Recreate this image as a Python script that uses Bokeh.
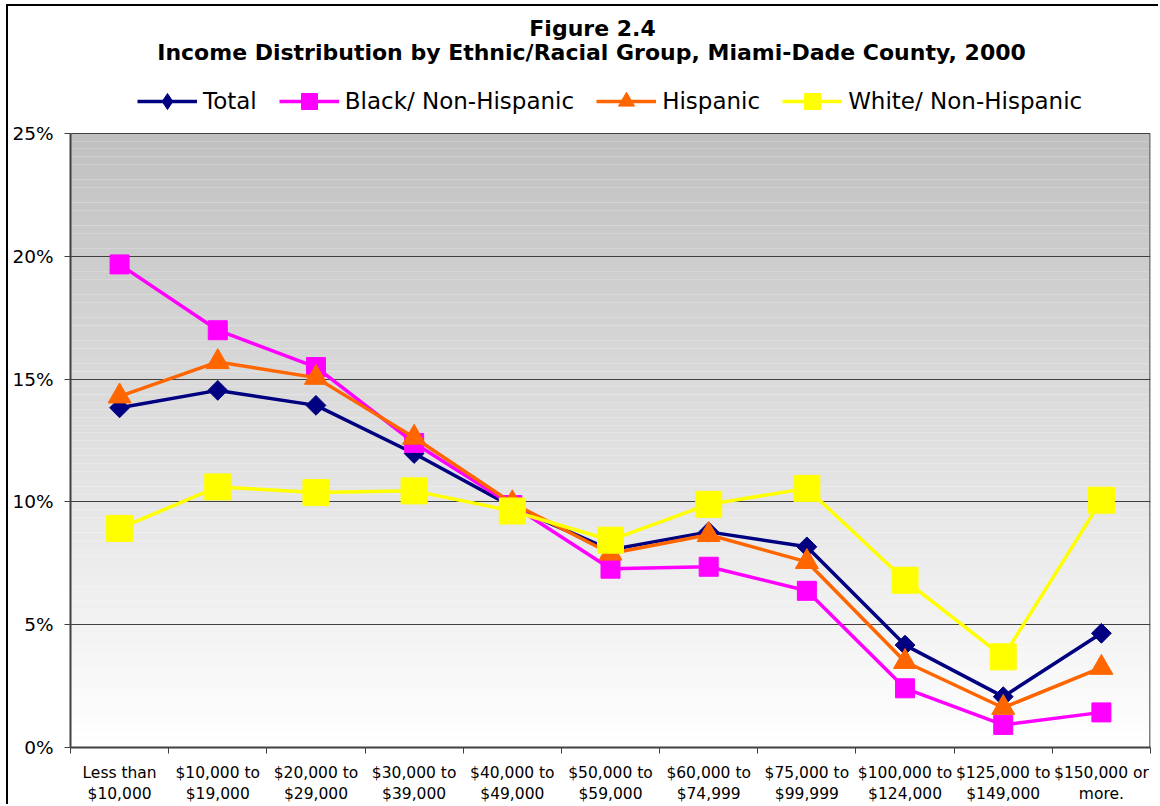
import numpy as np
from bokeh.plotting import figure
from bokeh.models import (FixedTicker, PrintfTickFormatter, Legend, LegendItem,
                          Label, Range1d)
from bokeh.embed import file_html
from bokeh.resources import INLINE

# ---------------- data ----------------
categories = [
    "Less than\n$10,000", "$10,000 to\n$19,000", "$20,000 to\n$29,000",
    "$30,000 to\n$39,000", "$40,000 to\n$49,000", "$50,000 to\n$59,000",
    "$60,000 to\n$74,999", "$75,000 to\n$99,999", "$100,000 to\n$124,000",
    "$125,000 to\n$149,000", "$150,000 or\nmore.",
]
series_names = ["Total", "Black/ Non-Hispanic", "Hispanic", "White/ Non-Hispanic"]
total = [13.83, 14.54, 13.93, 11.97, 9.80, 8.05, 8.78, 8.17, 4.17, 2.07, 4.65]
black = [19.67, 16.99, 15.49, 12.40, 9.87, 7.28, 7.36, 6.38, 2.41, 0.92, 1.43]
hispanic = [14.30, 15.70, 15.06, 12.62, 9.95, 7.90, 8.66, 7.56, 3.49, 1.62, 3.25]
white = [8.92, 10.61, 10.38, 10.45, 9.63, 8.44, 9.90, 10.55, 6.81, 3.69, 10.07]
y_ticks = [0, 5, 10, 15, 20, 25]
title_line1 = "Figure 2.4"
title_line2 = "Income Distribution by Ethnic/Racial Group, Miami-Dade County, 2000"

FONT = "DejaVu Sans"
Y_MAX = y_ticks[-1]
n_cat = len(categories)
x = [i + 0.5 for i in range(n_cat)]

# canvas geometry (the canvas sits inside a 2px black chart border)
W, H = 1152, 800
BORDER_L, BORDER_B, BORDER_R = 62, 59, 10
PLOT_PX = 614                       # pixel height of the 0-25% plot area
FRAME_PX = H - BORDER_B             # frame reaches the top of the canvas
Y_TOP = Y_MAX * FRAME_PX / PLOT_PX  # room above the plot area for titles/legend

p = figure(width=W, height=H, output_backend="svg", toolbar_location=None,
           title=None, x_range=Range1d(0, n_cat), y_range=Range1d(0, Y_TOP),
           min_border_left=BORDER_L, min_border_right=BORDER_R,
           min_border_top=0, min_border_bottom=BORDER_B,
           background_fill_color="white", border_fill_color="white",
           styles={"margin-left": "6px", "margin-top": "4px",
                   "border-left": "2px solid black",
                   "border-top": "2px solid black"})

# gradient plot-area background (grey at top -> white at bottom)
n_bands = 80
edges = np.linspace(0, Y_MAX, n_bands + 1)
cols = []
for i in range(n_bands):
    t = (edges[i] + edges[i + 1]) / 2 / Y_MAX
    g = int(round(255 - t * (255 - 192)))
    cols.append("#%02x%02x%02x" % (g, g, g))
p.quad(left=0, right=n_cat, bottom=edges[:-1], top=edges[1:], fill_color=cols,
       line_color=None, level="image")
# right edge of the plot area
p.segment(x0=[n_cat], y0=[0], x1=[n_cat], y1=[Y_MAX], line_color="#808080",
          line_width=3, level="underlay")

# grid / axes
p.xgrid.visible = False
p.ygrid.grid_line_color = "#404040"
p.ygrid.grid_line_width = 1
p.outline_line_color = None

p.yaxis.ticker = FixedTicker(ticks=y_ticks, minor_ticks=[])
p.yaxis.bounds = (0, Y_MAX)
p.yaxis.formatter = PrintfTickFormatter(format="%d%%")
p.yaxis.major_tick_out = 6
p.yaxis.major_tick_in = 0
p.yaxis.major_tick_line_color = "#404040"
p.yaxis.axis_line_color = "#404040"
p.yaxis.axis_line_width = 2
p.yaxis.major_label_text_font = FONT
p.yaxis.major_label_text_font_size = "18.5px"
p.yaxis.major_label_text_color = "black"
p.yaxis.major_label_standoff = 11

p.xaxis.ticker = FixedTicker(ticks=x, minor_ticks=list(range(n_cat + 1)))
p.xaxis.major_label_overrides = {xi: c for xi, c in zip(x, categories)}
p.xaxis.major_tick_line_color = None
p.xaxis.major_tick_out = 6
p.xaxis.major_tick_in = 0
p.xaxis.minor_tick_out = 6
p.xaxis.minor_tick_in = 0
p.xaxis.minor_tick_line_color = "#404040"
p.xaxis.axis_line_color = "#404040"
p.xaxis.axis_line_width = 2
p.xaxis.major_label_text_font = FONT
p.xaxis.major_label_text_font_size = "15.5px"
p.xaxis.major_label_text_color = "black"
p.xaxis.major_label_standoff = 10

# series: (name, values, colour, plot marker, size, angle, legend marker)
specs = [
    (series_names[0], total, "#000080", "square", 14, np.pi / 4, "diamond"),
    (series_names[1], black, "#FF00FF", "square", 19, 0.0, "square"),
    (series_names[2], hispanic, "#FF6600", "triangle", 23, 0.0, "triangle"),
    (series_names[3], white, "#FFFF00", "square", 26, 0.0, "square"),
]
items = []
for name, vals, color, marker, size, ang, lmarker in specs:
    rl = p.line(x, vals, line_color=color, line_width=3.5)
    p.scatter(x, vals, marker=marker, size=size, angle=ang,
              fill_color=color, line_color=color)
    # legend-only key symbol (a single undrawable NaN point)
    rk = p.scatter(x=[np.nan], y=[np.nan], marker=lmarker, size=size,
                   fill_color=color, line_color=color)
    items.append(LegendItem(label=name, renderers=[rl, rk]))

legend = Legend(items=items, orientation="horizontal", location=(67, 626),
                label_text_font=FONT, label_text_font_size="23px",
                label_text_color="black", glyph_width=60, glyph_height=40,
                spacing=22, label_standoff=6, padding=0, margin=0,
                border_line_color=None, background_fill_alpha=0)
p.add_layout(legend, "center")

# titles
p.add_layout(Label(x=582, y=20, x_units="canvas", y_units="canvas",
                   text=title_line1, text_align="center",
                   text_baseline="alphabetic", text_font=FONT,
                   text_font_size="22px", text_font_style="bold",
                   text_color="black"))
p.add_layout(Label(x=581, y=44, x_units="canvas", y_units="canvas",
                   text=title_line2, text_align="center",
                   text_baseline="alphabetic", text_font=FONT,
                   text_font_size="22px", text_font_style="bold",
                   text_color="black"))

open("out.html", "w").write(file_html(p, INLINE))
